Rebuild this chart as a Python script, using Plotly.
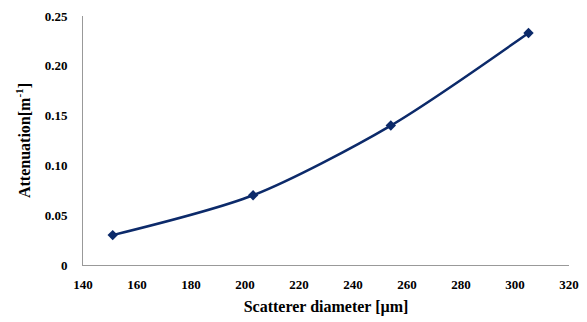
import plotly.graph_objects as go

diameter = [151, 203, 254, 305]
attenuation = [0.03, 0.07, 0.14, 0.233]
x_ticks = [140, 160, 180, 200, 220, 240, 260, 280, 300, 320]
y_ticks = [0, 0.05, 0.10, 0.15, 0.20, 0.25]
y_tick_labels = ["0", "0.05", "0.10", "0.15", "0.20", "0.25"]

navy = "#0c2a6a"
font_family = "Liberation Serif, Times New Roman, serif"

fig = go.Figure()
fig.add_trace(go.Scatter(
    x=diameter, y=attenuation, mode="lines+markers",
    line=dict(color=navy, width=2.5, shape="spline", smoothing=0.8),
    marker=dict(symbol="diamond", size=8, color=navy),
    showlegend=False,
))

fig.update_layout(
    width=579, height=314,
    margin=dict(l=75, r=18, t=8, b=57),
    paper_bgcolor="white", plot_bgcolor="white",
    font=dict(family=font_family, color="black"),
    xaxis=dict(
        range=[140, 320], tickvals=x_ticks, ticks="", showgrid=False, zeroline=False,
        showline=True, linecolor="#999999", linewidth=1, ticklabelstandoff=7,
        automargin=False,
        tickfont=dict(size=13, family=font_family, weight="bold"),
        title=dict(text="<b>Scatterer diameter [µm]</b>", font=dict(size=16), standoff=10),
    ),
    yaxis=dict(
        range=[0, 0.25], tickvals=y_ticks, ticktext=y_tick_labels, ticks="", showgrid=False,
        zeroline=False, showline=True, linecolor="#999999", linewidth=1, ticklabelstandoff=12,
        automargin=False,
        tickfont=dict(size=13, family=font_family, weight="bold"),
        title=dict(text="<b>Attenuation[m<sup>-1</sup>]</b>", font=dict(size=16), standoff=10),
    ),
)

fig.write_html("out.html")
